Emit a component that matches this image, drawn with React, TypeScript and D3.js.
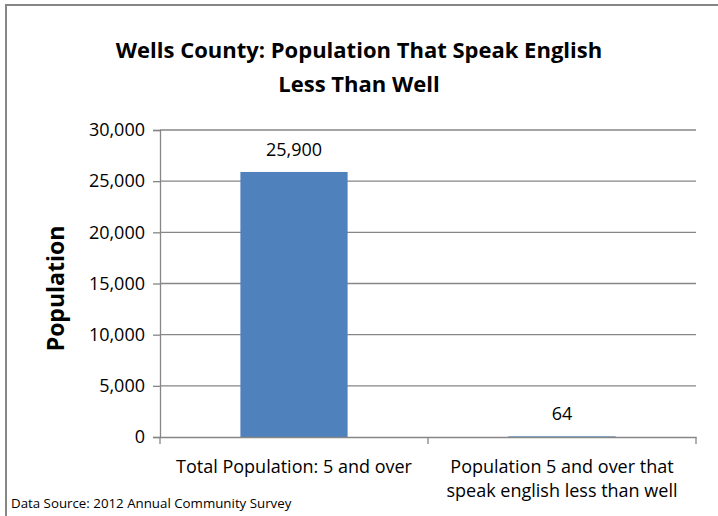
import React, { useEffect, useRef } from "react";
import * as d3 from "d3";

const categories: string[][] = [
  ["Total Population: 5 and over"],
  ["Population 5 and over that", "speak english less than well"],
];
const values: number[] = [25900, 64];
const yTicks: number[] = [0, 5000, 10000, 15000, 20000, 25000, 30000];
const titleLines: string[] = ["Wells County: Population That Speak English", "Less Than Well"];
const yTitle = "Population";
const sourceNote = "Data Source: 2012 Annual Community Survey";

const W = 718;
const H = 516;
const FONT = "'Open Sans', 'Noto Sans', sans-serif";
const GRID = "#868686";
const BAR = "#4F81BD";
const FS = 18;

export default function App() {
  const ref = useRef<SVGSVGElement>(null);

  useEffect(() => {
    const svg = d3.select(ref.current);
    svg.selectAll("*").remove();

    const left = 160, right = 696, top = 130, bottom = 437;
    const x = d3.scaleBand<number>().domain(d3.range(values.length)).range([left, right]).paddingInner(0.6).paddingOuter(0.3);
    const xCat = d3.scaleBand<number>().domain(d3.range(values.length)).range([left, right]);
    const y = d3.scaleLinear().domain([0, 30000]).range([bottom, top]);

    svg.append("rect").attr("width", W).attr("height", H).attr("fill", "#fff");
    // chart border (left and top visible)
    svg.append("path").attr("d", `M6,${H} V5 H${W}`).attr("fill", "none").attr("stroke", GRID).attr("stroke-width", 2);

    // title
    titleLines.forEach((t, i) => {
      svg.append("text").attr("x", 359).attr("y", 58 + i * 34).attr("text-anchor", "middle")
        .attr("font-family", FONT).attr("font-weight", "bold").attr("font-size", 22).attr("fill", "#000").text(t);
    });

    // gridlines
    svg.append("g").selectAll("line").data(yTicks.filter(d => d > 0)).join("line")
      .attr("x1", left).attr("x2", right).attr("y1", d => y(d)).attr("y2", d => y(d))
      .attr("stroke", GRID).attr("stroke-width", 1.3);

    // bars
    svg.append("g").selectAll("rect").data(values).join("rect")
      .attr("x", (_, i) => x(i) as number).attr("width", x.bandwidth())
      .attr("y", d => y(d)).attr("height", d => bottom - y(d)).attr("fill", BAR);

    // y axis
    const ya = svg.append("g").attr("transform", `translate(${left},0)`)
      .call(d3.axisLeft(y).tickValues(yTicks).tickSize(7).tickPadding(8).tickFormat(d3.format(",")));
    ya.select(".domain").attr("stroke", GRID).attr("stroke-width", 1.3);
    ya.selectAll(".tick line").attr("stroke", GRID).attr("stroke-width", 1.3);
    ya.selectAll(".tick text").attr("font-family", FONT).attr("font-size", FS).attr("fill", "#000");

    // x axis
    const xa = svg.append("g").attr("transform", `translate(0,${bottom})`)
      .call(d3.axisBottom(xCat).tickValues([]).tickSizeOuter(0));
    xa.select(".domain").attr("stroke", GRID).attr("stroke-width", 1.3);
    const xt = [left, ...d3.range(values.length).map(i => (xCat(i) as number) + xCat.bandwidth())];
    xa.selectAll("line.xt").data(xt).join("line").attr("class", "xt")
      .attr("x1", d => d).attr("x2", d => d).attr("y1", 0).attr("y2", 7)
      .attr("stroke", GRID).attr("stroke-width", 1.3);

    // data labels
    svg.append("g").selectAll("text").data(values).join("text")
      .attr("x", (_, i) => (x(i) as number) + x.bandwidth() / 2)
      .attr("y", d => y(d) - 16).attr("text-anchor", "middle")
      .attr("font-family", FONT).attr("font-size", FS).attr("fill", "#000")
      .text(d => d3.format(",")(d));

    // category labels
    categories.forEach((lines, i) => {
      lines.forEach((t, j) => {
        svg.append("text").attr("x", (xCat(i) as number) + xCat.bandwidth() / 2).attr("y", 473 + j * 24)
          .attr("text-anchor", "middle").attr("font-family", FONT).attr("font-size", FS).attr("fill", "#000").text(t);
      });
    });

    // y title
    svg.append("text").attr("transform", `translate(64,${(top + bottom) / 2 + 5}) rotate(-90)`)
      .attr("text-anchor", "middle").attr("font-family", FONT).attr("font-weight", "bold")
      .attr("font-size", 23).attr("fill", "#000").text(yTitle);

    // source
    svg.append("text").attr("x", 11).attr("y", 508).attr("font-family", FONT).attr("font-size", 13.3)
      .attr("fill", "#000").text(sourceNote);
  }, []);

  return (
    <svg ref={ref} width={W} height={H} style={{ position: "absolute", left: 0, top: 0, display: "block" }} />
  );
}
